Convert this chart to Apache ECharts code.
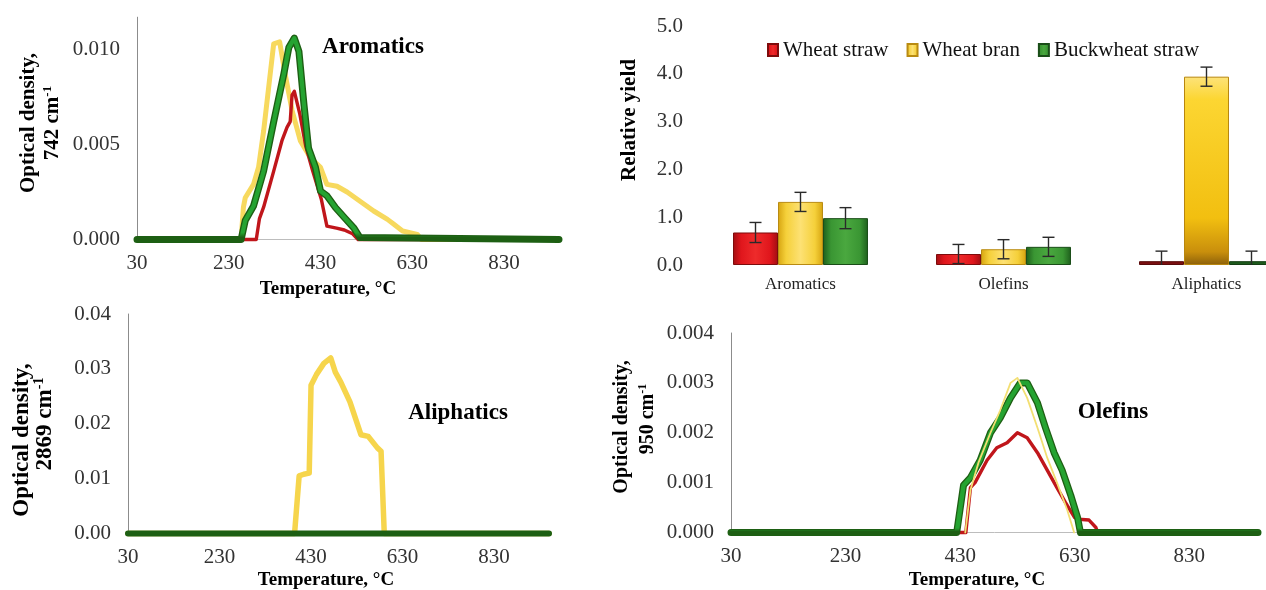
<!DOCTYPE html>
<html><head><meta charset="utf-8">
<script src="https://cdn.jsdelivr.net/npm/echarts@6/dist/echarts.min.js"></script>
<style>html,body{margin:0;padding:0;background:#fff}#c{width:1266px;height:590px}</style>
</head><body><div id="c"></div>
<script>
const FONT = "'Liberation Serif','Times New Roman',serif";

// ---- tick labels ----
const tempTicks = [30, 230, 430, 630, 830];
const aroTicks = [0, 0.005, 0.010];
const aliTicks = [0, 0.01, 0.02, 0.03, 0.04];
const oleTicks = [0, 0.001, 0.002, 0.003, 0.004];
const yieldTicks = [0, 1, 2, 3, 4, 5];

// ---- Aromatics, 742 cm-1 : [temperature, optical density] ----
const aroStraw = [[30,0],[290,0],[297,0.0011],[306,0.0017],[328,0.0036],[346,0.0052],[357,0.0059],[364,0.0062],[368,0.0076],[373,0.0078],[385,0.0066],[398,0.0049],[412,0.0037],[432,0.0021],[444,0.0007],[465,0.0006],[482,0.0005],[500,0.0003],[512,0],[950,0]];
const aroBran = [[30,0],[257,0],[262,0.0017],[266,0.0022],[284,0.0029],[295,0.0038],[306,0.0057],[317,0.0080],[328,0.0103],[341,0.0104],[353,0.0087],[368,0.0068],[386,0.0052],[408,0.0043],[430,0.0038],[444,0.0029],[466,0.0028],[488,0.0025],[517,0.0020],[546,0.0015],[576,0.00106],[590,0.0008],[609,0.00045],[641,0.00027],[650,0],[950,0]];
const aroBuck = [[30,0],[257,0],[266,0.0010],[284,0.00176],[306,0.0036],[328,0.0062],[350,0.0087],[361,0.0101],[373,0.0106],[383,0.0099],[394,0.0071],[404,0.0048],[419,0.0038],[430,0.00255],[444,0.0023],[463,0.00167],[485,0.00108],[503,0.0006],[516,0.0001],[520,0],[950,0]];

// ---- Aliphatics, 2869 cm-1 ----
const aliStraw = [[30,0],[950,0]];
const aliBran = [[30,0],[394,0],[404,0.0105],[414,0.0108],[426,0.0110],[430,0.0270],[442,0.0290],[458,0.0310],[473,0.0320],[483,0.0294],[495,0.0276],[515,0.0240],[539,0.0180],[555,0.0177],[575,0.0156],[583,0.0150],[590,0],[950,0]];
const aliBuck = [[30,0],[950,0]];

// ---- Olefins, 950 cm-1 ----
const oleStraw = [[30,0],[440,0],[448,0.0009],[456,0.0010],[477,0.00145],[494,0.0017],[512,0.0018],[530,0.0020],[547,0.0019],[565,0.0016],[582,0.00125],[599,0.0009],[614,0.0006],[630,0.0003],[643,0.00026],[655,0.00025],[667,0.0001],[670,0],[950,0]];
const oleBran = [[439,0],[448,0.00085],[462,0.0014],[483,0.0020],[500,0.00245],[518,0.0030],[530,0.0031],[547,0.0027],[565,0.0021],[582,0.0015],[599,0.0010],[617,0.00045],[629,0]];
const oleBuck = [[30,0],[424,0],[436,0.00095],[448,0.0011],[465,0.00145],[483,0.0020],[500,0.0023],[518,0.0027],[535,0.0030],[547,0.0030],[565,0.0026],[579,0.0021],[594,0.0016],[608,0.00125],[623,0.00075],[635,0.0003],[640,0],[950,0]];

// ---- Relative yield bars ----
const barCategories = ['Aromatics', 'Olefins', 'Aliphatics'];
const materials = ['Wheat straw', 'Wheat bran', 'Buckwheat straw'];
const yieldStraw = [0.68, 0.23, 0.08];
const yieldBran = [1.32, 0.33, 3.94];
const yieldBuck = [0.98, 0.38, 0.08];
const errStraw = [0.21, 0.20, 0.21];
const errBran = [0.20, 0.20, 0.20];
const errBuck = [0.22, 0.20, 0.21];

const G = echarts.graphic.LinearGradient;
const C_RED = '#c0161b', C_YEL = '#f7d95e', C_GRN = '#25a331', C_DKG = '#1d5f13';

function greenGrad() {
  return new G(0, 1, 0, 0, [
    {offset: 0, color: C_DKG}, {offset: 0.022, color: C_DKG},
    {offset: 0.045, color: C_GRN}, {offset: 1, color: C_GRN}]);
}
function hGrad(edge, base, mid) {
  return new G(0, 0, 1, 0, [
    {offset: 0, color: edge}, {offset: 0.18, color: base}, {offset: 0.5, color: mid},
    {offset: 0.82, color: base}, {offset: 1, color: edge}]);
}

function xAxisFor(g) {
  return {type: 'value', gridIndex: g, min: 30, max: 950, interval: 200,
    axisLine: {show: true, lineStyle: {color: '#bdbdbd', width: 1}},
    axisTick: {show: false}, splitLine: {show: false},
    axisLabel: {customValues: tempTicks, fontFamily: FONT, fontSize: 21, color: '#333', margin: 13}};
}
function yAxisFor(g, max, interval, ticks, dec) {
  return {type: 'value', gridIndex: g, min: 0, max: max, interval: interval,
    axisLine: {show: true, lineStyle: {color: '#8c8c8c', width: 1}},
    axisTick: {show: false}, splitLine: {show: false},
    axisLabel: {customValues: ticks,
      fontFamily: FONT, fontSize: 21, color: '#333', margin: 17,
      formatter: v => Number(v).toFixed(dec)}};
}
function lineS(name, data, g, color, width, z) {
  return {type: 'line', name: name, xAxisIndex: g, yAxisIndex: g, data: data,
    symbol: 'none', showSymbol: false, clip: false, silent: true, z: z,
    lineStyle: {color: color, width: width, cap: 'round', join: 'round'}};
}

const barVals = [yieldStraw, yieldBran, yieldBuck];
const barErrs = [errStraw, errBran, errBuck];
const errData = [];
for (let k = 0; k < 3; k++) {
  for (let i = 0; i < 3; i++) {
    const v = barVals[k][i], e = barErrs[k][i];
    errData.push([i, k, Math.max(0, v - e), v + e, v - e > 0 ? 1 : 0]);
  }
}
const GAP = 0.335;

const barStyles = [
  {color: hGrad('#a10e12', '#e0161c', '#ee2b2b'), borderColor: '#7e0c0c'},
  {color: hGrad('#d6a410', '#f5d03a', '#fde174'), borderColor: '#b98b12'},
  {color: hGrad('#1e5e1c', '#3a9633', '#4aa83f'), borderColor: '#1a4d18'}
];
const tinyStyles = [
  {color: '#7a0f10', borderColor: '#5a0a0a'},
  null,
  {color: '#1e5a1c', borderColor: '#163f14'}
];
const tallBran = {color: new G(0, 0, 0, 1, [
  {offset: 0, color: '#fde37a'}, {offset: 0.12, color: '#fcd632'},
  {offset: 0.75, color: '#f2bf10'}, {offset: 0.93, color: '#c98f0c'}, {offset: 1, color: '#8c600a'}]),
  borderColor: '#b8860e'};

function barData(k) {
  return barVals[k].map((v, i) => {
    if (i === 2) {
      const st = k === 1 ? tallBran : tinyStyles[k];
      return {value: v, itemStyle: st};
    }
    return v;
  });
}

const series = [];
for (let k = 0; k < 3; k++) {
  series.push({type: 'bar', name: materials[k], xAxisIndex: 1, yAxisIndex: 1,
    data: barData(k), barGap: '0%', barCategoryGap: (GAP * 100) + '%',
    itemStyle: Object.assign({borderWidth: 1}, barStyles[k]), z: 2});
}
series.push({type: 'custom', name: 'error', xAxisIndex: 1, yAxisIndex: 1, z: 5, silent: true,
  data: errData,
  renderItem: function (params, api) {
    const cat = api.value(0), k = api.value(1);
    const lo = api.coord([cat, api.value(2)]);
    const hi = api.coord([cat, api.value(3)]);
    const band = api.size([1, 0])[0];
    const bw = band * (1 - GAP) / 3;
    const x = lo[0] + (k - 1) * bw;
    const cap = 6;
    const st = {stroke: '#2a2a2a', lineWidth: 1.4};
    const ch = [
      {type: 'line', shape: {x1: x, y1: hi[1], x2: x, y2: lo[1]}, style: st},
      {type: 'line', shape: {x1: x - cap, y1: hi[1], x2: x + cap, y2: hi[1]}, style: st}];
    if (api.value(4)) ch.push({type: 'line', shape: {x1: x - cap, y1: lo[1], x2: x + cap, y2: lo[1]}, style: st});
    return {type: 'group', children: ch};
  }});

// Aromatics (grid 0)
series.push(lineS('Aromatics bran', aroBran, 0, C_YEL, 5, 3));
series.push(lineS('Aromatics straw', aroStraw, 0, C_RED, 3.4, 4));
series.push(lineS('Aromatics buck base', aroBuck, 0, C_DKG, 7, 5));
series.push(lineS('Aromatics buck', aroBuck, 0, greenGrad(), 4.2, 6));
// Aliphatics (grid 2)
series.push(lineS('Aliphatics bran', aliBran, 2, '#f6d54c', 5.5, 3));
series.push(lineS('Aliphatics straw', aliStraw, 2, C_RED, 3.4, 4));
series.push(lineS('Aliphatics buck', aliBuck, 2, C_DKG, 6, 5));
// Olefins (grid 3)
series.push(lineS('Olefins straw', oleStraw, 3, C_RED, 3.4, 3));
series.push(lineS('Olefins buck base', oleBuck, 3, C_DKG, 7, 4));
series.push(lineS('Olefins buck', oleBuck, 3, greenGrad(), 4.4, 5));
series.push(lineS('Olefins bran', oleBran, 3, '#f3df72', 1.8, 6));

function txt(x, y, s, size, rot) {
  return {type: 'text', x: x, y: y, rotation: rot ? Math.PI / 2 : 0, silent: true,
    style: {text: s, font: 'bold ' + size + 'px ' + FONT, fill: '#000', align: 'center', verticalAlign: 'middle'}};
}
function supTxt(x, y, main, sup, size) {
  return {type: 'text', x: x, y: y, rotation: Math.PI / 2, silent: true,
    style: {text: '{b|' + main + '}{s|' + sup + '}', fill: '#000', align: 'center', verticalAlign: 'middle',
      rich: {
        b: {fontFamily: FONT, fontWeight: 'bold', fontSize: size, lineHeight: size + 2, fill: '#000'},
        s: {fontFamily: FONT, fontWeight: 'bold', fontSize: Math.round(size * 0.62), lineHeight: Math.round(size * 0.55), verticalAlign: 'top', fill: '#000'}
      }}};
}

const option = {
  animation: false,
  backgroundColor: '#fff',
  grid: [
    {left: 137, top: 17.2, width: 422, height: 222.3, containLabel: false, outerBoundsMode: 'none'},
    {left: 699, top: 26, width: 609, height: 239, containLabel: false, outerBoundsMode: 'none'},
    {left: 128, top: 314, width: 421, height: 219.5, containLabel: false, outerBoundsMode: 'none'},
    {left: 731, top: 333, width: 527, height: 199.5, containLabel: false, outerBoundsMode: 'none'}
  ],
  xAxis: [
    xAxisFor(0),
    {type: 'category', gridIndex: 1, data: barCategories,
      axisLine: {show: false}, axisTick: {show: false}, splitLine: {show: false},
      axisLabel: {fontFamily: FONT, fontSize: 17, color: '#222', margin: 11}},
    xAxisFor(2),
    xAxisFor(3)
  ],
  yAxis: [
    yAxisFor(0, 0.0117, 0.005, aroTicks, 3),
    {type: 'value', gridIndex: 1, min: 0, max: 5, interval: 1,
      axisLine: {show: false}, axisTick: {show: false}, splitLine: {show: false},
      axisLabel: {customValues: yieldTicks, fontFamily: FONT, fontSize: 21, color: '#333', margin: 16,
        formatter: v => Number(v).toFixed(1)}},
    yAxisFor(2, 0.04, 0.01, aliTicks, 2),
    yAxisFor(3, 0.004, 0.001, oleTicks, 3)
  ],
  legend: {data: materials, left: 762, top: 34, orient: 'horizontal', itemWidth: 10, itemHeight: 12,
    itemGap: 18, icon: 'rect', selectedMode: false,
    textStyle: {fontFamily: FONT, fontSize: 21, color: '#111', lineHeight: 22}},
  graphic: [
    txt(373, 47.5, 'Aromatics', 23),
    txt(458, 413, 'Aliphatics', 23),
    txt(1113, 412, 'Olefins', 23),
    txt(328, 289, 'Temperature, °C', 19),
    txt(326, 580, 'Temperature, °C', 19),
    txt(977, 580, 'Temperature, °C', 19),
    txt(29, 123, 'Optical density,', 21, true),
    supTxt(52.5, 123, '742 cm', '-1', 21),
    txt(22, 440, 'Optical density,', 23, true),
    supTxt(45, 424, '2869 cm', '-1', 23),
    txt(622, 427, 'Optical density,', 20, true),
    supTxt(648, 419, '950 cm', '-1', 20),
    txt(630, 120, 'Relative yield', 21, true)
  ],
  series: series
};
const chart = echarts.init(document.getElementById('c'), null, {renderer: 'canvas'});
chart.setOption(option);
</script></body></html>
